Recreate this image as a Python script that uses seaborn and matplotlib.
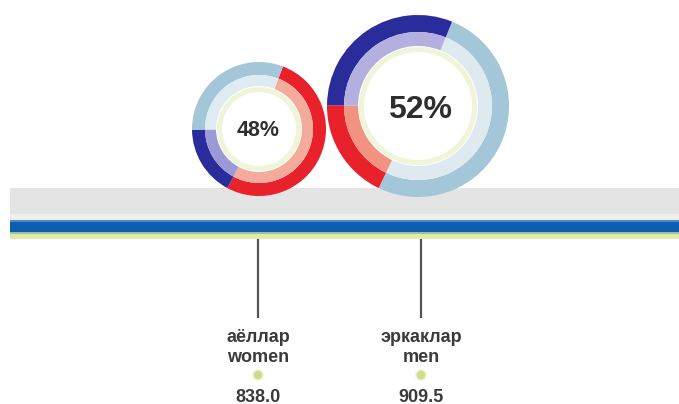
import matplotlib
matplotlib.use("Agg")
import matplotlib.pyplot as plt
import seaborn as sns
import pandas as pd

# ---- data ----
groups = ["аёллар", "эркаклар"]
groups_en = ["women", "men"]
values = ["838.0", "909.5"]
percent_labels = ["48%", "52%"]
# ring segment shares, listed clockwise from start angle
women_segments = [52, 17, 31]          # red, dark blue, light blue
women_colors = ["#e8212b", "#2b2c9c", "#a3c6d8"]
women_inner = ["#f5ab9c", "#9c9ad6", "#e0ebf1"]
men_segments = [51, 18, 31]            # light blue, red, dark blue
men_colors = ["#a3c6d8", "#e8212b", "#2b2c9c"]
men_inner = ["#dfeaf0", "#f29382", "#b3b0e0"]

W, H = 679, 404
sns.set_theme(style="white")
plt.rcParams["font.family"] = ["Liberation Sans", "DejaVu Sans"]

fig = plt.figure(figsize=(W / 100, H / 100), dpi=100)
ax = fig.add_axes([0, 0, 1, 1])

def Y(y):
    return H - y

# background bands
ax.axhspan(Y(214), Y(188), xmin=10 / W, xmax=1, color="#e4e4e5", lw=0, zorder=0)
ax.axhspan(Y(220), Y(214), xmin=10 / W, xmax=1, color="#eef0ee", lw=0, zorder=0)
ax.axhspan(Y(222), Y(220), xmin=10 / W, xmax=1, color="#4f88c0", lw=0, zorder=0)
ax.axhspan(Y(232), Y(222), xmin=10 / W, xmax=1, color="#0b5fae", lw=0, zorder=0)
ax.axhspan(Y(234), Y(232), xmin=10 / W, xmax=1, color="#9cc0a8", lw=0, zorder=0)
ax.axhspan(Y(239), Y(234), xmin=10 / W, xmax=1, color="#e2eaa8", lw=0, zorder=0)

# rings
rings = [
    dict(center=(259, 129), R=67, w=13, w2=11, yr=42, seg=women_segments,
         col=women_colors, inner=women_inner, start=69),
    dict(center=(418, 106), R=91, w=17, w2=14, yr=59, seg=men_segments,
         col=men_colors, inner=men_inner, start=68),
]
for r in rings:
    cx, cy = r["center"]
    c = (cx, Y(cy))
    ax.pie(r["seg"], colors=r["col"], startangle=r["start"], counterclock=False,
           radius=r["R"], center=c, wedgeprops=dict(width=r["w"], edgecolor="none"),
           frame=True)
    ax.pie(r["seg"], colors=r["inner"], startangle=r["start"], counterclock=False,
           radius=r["R"] - r["w"], center=c, wedgeprops=dict(width=r["w2"], edgecolor="none"),
           frame=True)
    ax.pie([1], colors=["#f0f4d8"], radius=r["yr"], center=c,
           wedgeprops=dict(width=5, edgecolor="none"), frame=True)

ax.text(258, Y(130), percent_labels[0], ha="center", va="center",
        fontsize=15.5, fontweight="bold", color="#2e2e2e")
ax.text(420, Y(110), percent_labels[1], ha="center", va="center",
        fontsize=23, fontweight="bold", color="#2e2e2e")

# leader lines and labels
xs = [258, 421]
for x, g, ge, v in zip(xs, groups, groups_en, values):
    ax.plot([x, x], [Y(239), Y(318)], color="#555555", lw=1.6, solid_capstyle="butt")
    ax.text(x, Y(337), g, ha="center", va="center", fontsize=13,
            fontweight="bold", color="#3a3a3a")
    ax.text(x, Y(357), ge, ha="center", va="center", fontsize=13,
            fontweight="bold", color="#3a3a3a")
    ax.text(x, Y(397), v, ha="center", va="center", fontsize=13,
            fontweight="bold", color="#3a3a3a")

dots = pd.DataFrame({"x": xs, "y": [Y(375), Y(375)]})
sns.scatterplot(data=dots, x="x", y="y", ax=ax, s=75, color="#f3f7dc",
                edgecolor="none", legend=False)
sns.scatterplot(data=dots, x="x", y="y", ax=ax, s=40, color="#cfdc8e",
                edgecolor="none", legend=False)

ax.set_xlim(0, W)
ax.set_ylim(0, H)
ax.set_aspect("auto")
ax.axis("off")
fig.savefig("out.png", dpi=100, facecolor="white")
